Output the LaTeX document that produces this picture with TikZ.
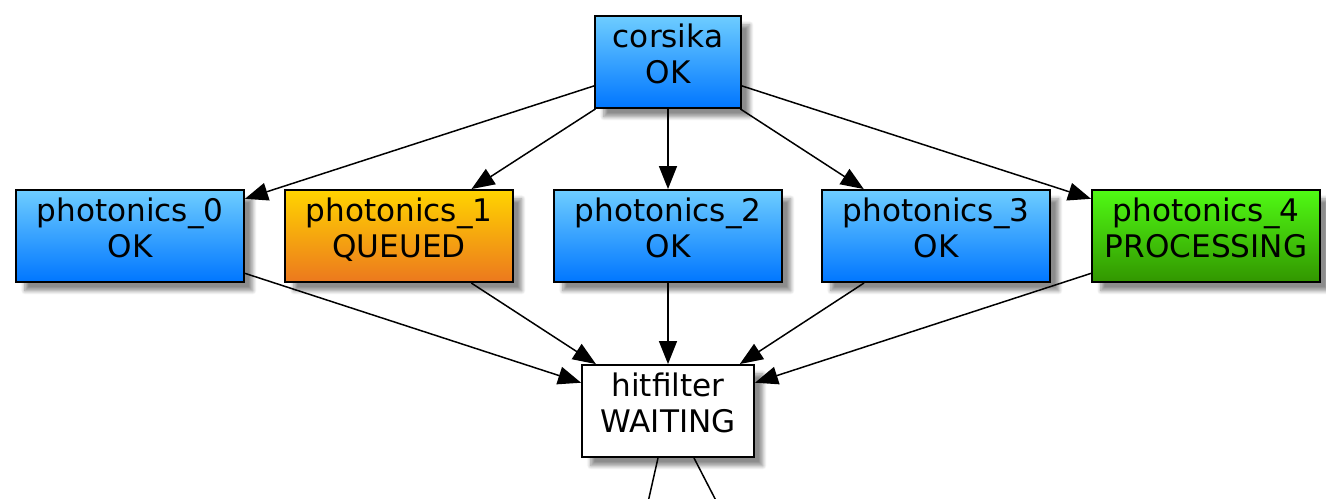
\documentclass[tikz,border=0pt]{standalone}
\usepackage{fontspec}
\setmainfont{DejaVu Sans}
\usetikzlibrary{arrows.meta,shadows.blur}

\definecolor{okTop}{RGB}{110,205,255}
\definecolor{okBot}{RGB}{0,118,255}
\definecolor{queuedTop}{RGB}{255,212,0}
\definecolor{queuedBot}{RGB}{236,120,30}
\definecolor{procTop}{RGB}{80,250,20}
\definecolor{procBot}{RGB}{50,150,0}

\begin{document}
\begin{tikzpicture}[x=0.02cm,y=-0.02cm,
  job/.style={draw=black,line width=1.1pt,minimum height=1.84cm,inner sep=0pt,
    align=center,font=\fontsize{17.7}{20.6}\selectfont,text depth=0.32cm,
    blur shadow={shadow xshift=5pt,shadow yshift=-5pt,shadow blur steps=8,shadow opacity=45}},
  ok/.style={job,top color=okTop,bottom color=okBot},
  queued/.style={job,top color=queuedTop,bottom color=queuedBot},
  processing/.style={job,top color=procTop,bottom color=procBot},
  waiting/.style={job,fill=white},
  edge/.style={line width=0.85pt,-{Triangle[length=0.46cm,width=0.36cm]}}]

\useasboundingbox (0,0) rectangle (1326,498);

\node[ok,minimum width=2.92cm] (corsika) at (668,62) {corsika\\OK};

\node[ok,minimum width=4.56cm] (photonics0) at (130,236) {photonics\_0\\OK};
\node[queued,minimum width=4.56cm] (photonics1) at (399,236) {photonics\_1\\QUEUED};
\node[ok,minimum width=4.56cm] (photonics2) at (668,236) {photonics\_2\\OK};
\node[ok,minimum width=4.56cm] (photonics3) at (936,236) {photonics\_3\\OK};
\node[processing,minimum width=4.56cm] (photonics4) at (1206,236) {photonics\_4\\PROCESSING};

\node[waiting,minimum width=3.44cm] (hitfilter) at (668,411) {hitfilter\\WAITING};

\coordinate (below0) at (644,520);
\coordinate (below1) at (726,520);

\foreach \i in {0,...,4}
{
\draw[edge] (corsika) -- (photonics\i);
\draw[edge] (photonics\i) -- (hitfilter);
}

\draw[line width=0.85pt] ([xshift=-0.2cm]hitfilter.south) -- (below0);
\draw[line width=0.85pt] ([xshift=0.52cm]hitfilter.south) -- (below1);
\end{tikzpicture}
\end{document}
